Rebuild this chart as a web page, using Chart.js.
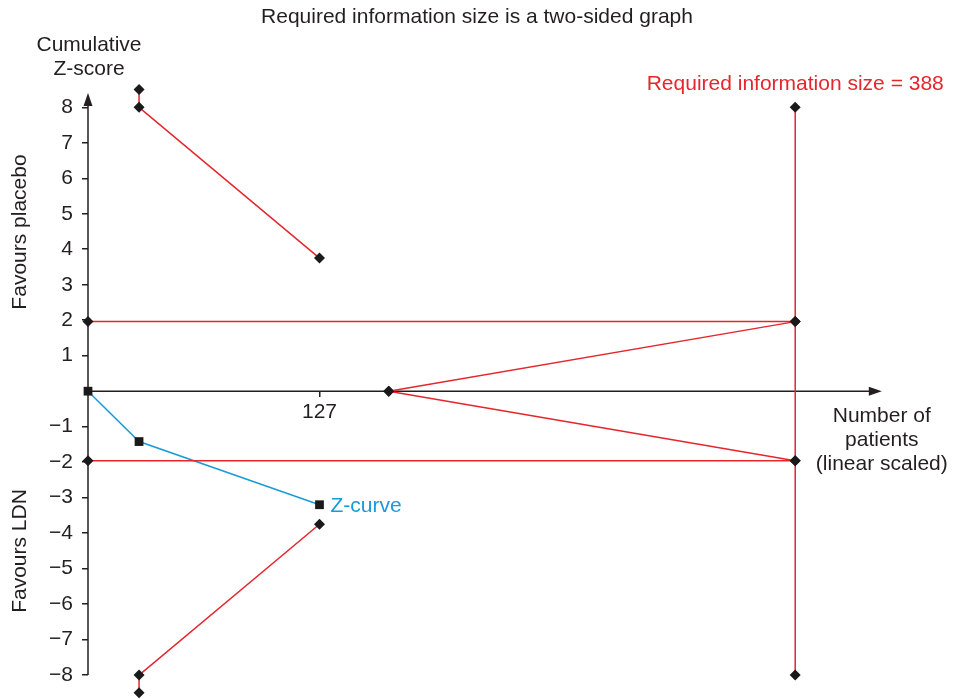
<!DOCTYPE html>
<html lang="en">
<head>
    <meta charset="UTF-8">
    <title>Trial Sequential Analysis</title>
    <script src="https://cdn.jsdelivr.net/npm/chart.js"></script>
    <style>
        body { margin: 0; background: #fff; }
        #wrap { width: 955px; height: 699px; }
    </style>
</head>
<body>
<div id="wrap"><canvas id="tsaChart" width="955" height="699"></canvas></div>

<script>
    // data
    const requiredSize = 388;
    const conventionalZ = 1.96;
    const boundaryPatients = [28, 28, 127];
    const upperBoundaryZ = [8.5, 8, 3.75];
    const lowerBoundaryZ = [-8.5, -8, -3.75];
    const futilityPatients = [165, 388];
    const futilityUpperZ = [0, 1.96];
    const futilityLowerZ = [0, -1.96];
    const zCurvePatients = [0, 28, 127];
    const zCurveZ = [0, -1.42, -3.2];
    const xTickValues = [127];
    const yTickValues = [-8, -7, -6, -5, -4, -3, -2, -1, 1, 2, 3, 4, 5, 6, 7, 8];

    const RED = '#e5262d';
    const BLUE = '#1b9ad8';
    const INK = '#231f20';
    const FONT = '"Liberation Sans", Arial, sans-serif';
    const FS = 21;

    const pts = (xs, ys) => xs.map((x, i) => ({ x: x, y: ys[i] }));

    const lineSet = (data, color, shape, radius) => ({
        data: data,
        showLine: true,
        borderColor: color,
        borderWidth: 1.5,
        pointStyle: shape,
        pointRadius: radius,
        pointBackgroundColor: '#1a1a1a',
        pointBorderColor: '#1a1a1a',
        pointBorderWidth: 0,
        clip: false
    });

    // keep the scales from pushing the plot area around
    const noPad = (s) => {
        s.paddingTop = 0;
        s.paddingBottom = 0;
        s.paddingLeft = 0;
        s.paddingRight = 0;
    };

    // axis lines with arrow heads plus all the free texts
    const decor = {
        id: 'decor',
        beforeDatasetsDraw(chart) {
            const { ctx, scales: { x, y } } = chart;
            const x0 = x.getPixelForValue(0), y0 = y.getPixelForValue(0);
            const xEnd = x.getPixelForValue(435.5), yTop = y.getPixelForValue(8.4);
            ctx.save();
            ctx.strokeStyle = INK;
            ctx.fillStyle = INK;
            ctx.lineWidth = 1.5;
            ctx.beginPath();
            ctx.moveTo(x0, y.getPixelForValue(-8));
            ctx.lineTo(x0, yTop + 4);
            ctx.moveTo(x0, y0);
            ctx.lineTo(xEnd - 4, y0);
            ctx.stroke();
            ctx.beginPath();
            ctx.moveTo(x0, yTop);
            ctx.lineTo(x0 - 4.5, yTop + 13);
            ctx.lineTo(x0 + 4.5, yTop + 13);
            ctx.closePath();
            ctx.fill();
            ctx.beginPath();
            ctx.moveTo(xEnd, y0);
            ctx.lineTo(xEnd - 13, y0 - 4.5);
            ctx.lineTo(xEnd - 13, y0 + 4.5);
            ctx.closePath();
            ctx.fill();
            ctx.restore();
        },
        afterDraw(chart) {
            const { ctx, scales: { x, y } } = chart;
            ctx.save();
            ctx.font = FS + 'px ' + FONT;
            ctx.textBaseline = 'middle';
            ctx.textAlign = 'center';
            ctx.fillStyle = INK;
            ctx.fillText('Required information size is a two-sided graph', 477, 17);
            ctx.fillText('Cumulative', 89, 45);
            ctx.fillText('Z-score', 89, 69);
            const xr = x.getPixelForValue(435.5);
            ctx.fillText('Number of', xr, 416);
            ctx.fillText('patients', xr, 440);
            ctx.fillText('(linear scaled)', xr, 464);

            ctx.fillStyle = RED;
            ctx.fillText('Required information size = ' + requiredSize, x.getPixelForValue(requiredSize), 84);

            ctx.fillStyle = BLUE;
            ctx.textAlign = 'left';
            const last = zCurvePatients.length - 1;
            ctx.fillText('Z-curve', x.getPixelForValue(zCurvePatients[last]) + 11, y.getPixelForValue(zCurveZ[last]) + 1);

            ctx.fillStyle = INK;
            ctx.textAlign = 'center';
            ctx.translate(20, 232);
            ctx.rotate(-Math.PI / 2);
            ctx.fillText('Favours placebo', 0, 0);
            ctx.rotate(Math.PI / 2);
            ctx.translate(0, 319);
            ctx.rotate(-Math.PI / 2);
            ctx.fillText('Favours LDN', 0, 0);
            ctx.restore();
        }
    };

    const ctx = document.getElementById('tsaChart').getContext('2d');
    new Chart(ctx, {
        type: 'scatter',
        data: {
            datasets: [
                lineSet(pts(boundaryPatients, upperBoundaryZ), RED, 'rectRot', 5.5),
                lineSet(pts(boundaryPatients, lowerBoundaryZ), RED, 'rectRot', 5.5),
                lineSet(pts(futilityPatients, futilityUpperZ), RED, 'rectRot', 5.5),
                lineSet(pts(futilityPatients, futilityLowerZ), RED, 'rectRot', 5.5),
                lineSet(pts([0, requiredSize], [conventionalZ, conventionalZ]), RED, 'rectRot', 5.5),
                lineSet(pts([0, requiredSize], [-conventionalZ, -conventionalZ]), RED, 'rectRot', 5.5),
                lineSet(pts([requiredSize, requiredSize], [8, -8]), RED, 'rectRot', 5.5),
                lineSet(pts(zCurvePatients, zCurveZ), BLUE, 'rect', 6.2)
            ]
        },
        options: {
            responsive: false,
            animation: false,
            layout: { padding: { left: 0, right: 65, top: 86, bottom: 2 } },
            plugins: {
                legend: { display: false },
                tooltip: { enabled: false }
            },
            scales: {
                x: {
                    type: 'linear',
                    position: { y: 0 },
                    min: 0,
                    max: 440,
                    afterBuildTicks: (s) => { s.ticks = xTickValues.map(v => ({ value: v })); },
                    afterFit: (s) => { s.height = 0; noPad(s); },
                    grid: { drawOnChartArea: false, drawTicks: true, tickLength: 6, color: INK, lineWidth: 1.5 },
                    border: { display: false },
                    ticks: { color: INK, font: { size: FS, family: FONT }, padding: 2, maxRotation: 0 }
                },
                y: {
                    type: 'linear',
                    position: 'left',
                    min: -8.5,
                    max: 8.6,
                    afterBuildTicks: (s) => { s.ticks = yTickValues.map(v => ({ value: v })); },
                    afterFit: (s) => { s.width = 88; noPad(s); },
                    grid: { drawOnChartArea: false, drawTicks: true, tickLength: 6, color: INK, lineWidth: 1.5 },
                    border: { display: false },
                    ticks: {
                        color: INK,
                        font: { size: FS, family: FONT },
                        padding: 9,
                        callback: (v) => (v < 0 ? '\u2212' + Math.abs(v) : String(v))
                    }
                }
            }
        },
        plugins: [decor]
    });
</script>
</body>
</html>
